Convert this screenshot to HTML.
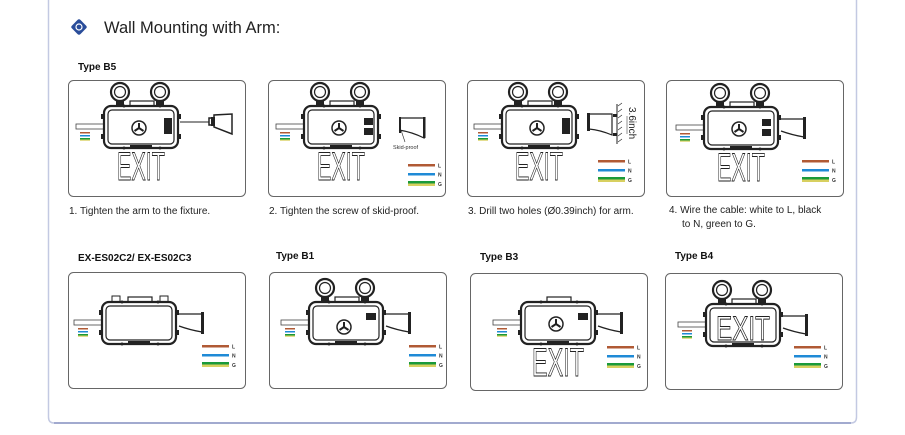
<!DOCTYPE html>
<html><head><meta charset="utf-8"><style>
html,body{margin:0;padding:0;background:#fff;}
svg{display:block;font-family:"Liberation Sans",sans-serif;}
</style></head><body>
<svg width="905" height="435" viewBox="0 0 905 435" xmlns="http://www.w3.org/2000/svg">
<defs>
  <g id="body">
    <rect x="0" y="0" width="74" height="42" rx="7" fill="#fff" stroke="#222" stroke-width="2.2"/>
    <rect x="4" y="4" width="66" height="34" rx="4" fill="#fff" stroke="#222" stroke-width="1.2"/>
    <rect x="26" y="-5" width="24" height="5" fill="none" stroke="#222" stroke-width="1.2"/>
    <rect x="-3" y="8" width="3" height="5" fill="#222"/><rect x="-3" y="28" width="3" height="5" fill="#222"/>
    <rect x="74" y="8" width="3" height="5" fill="#222"/><rect x="74" y="28" width="3" height="5" fill="#222"/>
    <rect x="26" y="39" width="22" height="4" fill="#222"/>
    <circle cx="20" cy="0" r="1.5" fill="#222"/><circle cx="56" cy="0" r="1.5" fill="#222"/>
    <circle cx="20" cy="42" r="1.5" fill="#222"/><circle cx="56" cy="42" r="1.5" fill="#222"/>
  </g>
  <g id="rings">
    <circle cx="16" cy="-14" r="9" fill="none" stroke="#222" stroke-width="2.2"/>
    <circle cx="16" cy="-14" r="5.5" fill="none" stroke="#222" stroke-width="1.2"/>
    <circle cx="56" cy="-14" r="9" fill="none" stroke="#222" stroke-width="2.2"/>
    <circle cx="56" cy="-14" r="5.5" fill="none" stroke="#222" stroke-width="1.2"/>
    <rect x="12" y="-5" width="8" height="5" fill="#222"/><rect x="52" y="-5" width="8" height="5" fill="#222"/>
  </g>
  <g id="fan">
    <circle cx="0" cy="0" r="7" fill="none" stroke="#222" stroke-width="1.5"/>
    <path d="M0 0 L0 -5 M0 0 L-4.5 3 M0 0 L4.5 3" stroke="#222" stroke-width="2"/>
  </g>
  <g id="cable">
    <rect x="-28" y="18" width="28" height="5" fill="#fff" stroke="#444" stroke-width="0.8"/>
    <rect x="-24" y="26" width="10" height="1.5" fill="#b05a35"/>
    <rect x="-24" y="29" width="10" height="1.5" fill="#1f8ad6"/>
    <rect x="-24" y="32" width="10" height="1.5" fill="#1a9a3a"/>
    <rect x="-24" y="33.5" width="10" height="1.2" fill="#d8d060"/>
  </g>
  <g id="arm">
    <path d="M77 12 L100 12 L100 30 Q88 28 77 24" fill="#fff" stroke="#222" stroke-width="1.3"/>
    <rect x="99" y="10" width="3" height="22" fill="#222"/>
  </g>
  <g id="legend">
    <rect x="0" y="0" width="27" height="2.5" fill="#b05a35"/>
    <rect x="0" y="9" width="27" height="2.5" fill="#1f8ad6"/>
    <rect x="0" y="17" width="27" height="2.5" fill="#1a9a3a"/>
    <rect x="0" y="19.5" width="27" height="2.5" fill="#d8d060"/>
    <text x="30" y="3.5" font-size="5" font-weight="bold" fill="#333">L</text>
    <text x="30" y="12.5" font-size="5" font-weight="bold" fill="#333">N</text>
    <text x="30" y="22" font-size="5" font-weight="bold" fill="#333">G</text>
  </g>
</defs>

<path d="M48.5 0 V417 Q48.5 423 54 423 H851 Q856.5 423 856.5 417 V0" fill="none" stroke="#c3c9e2" stroke-width="1.5"/>
<path d="M54 423 H851" stroke="#8d97c4" stroke-width="1.5"/>

<g transform="translate(79,27)">
  <rect x="-6" y="-6" width="12" height="12" rx="2" transform="rotate(45)" fill="#2a4d9a"/>
  <circle r="3" fill="none" stroke="#fff" stroke-width="1.2"/>
</g>
<text x="104" y="33" font-size="16.5" fill="#222">Wall Mounting with Arm:</text>

<text x="78" y="70" font-size="10" font-weight="bold" fill="#111">Type B5</text>

<rect x="68.5" y="80.5" width="177" height="116" rx="5" fill="#fff" stroke="#666" stroke-width="1"/>
<rect x="268.5" y="80.5" width="177" height="116" rx="5" fill="#fff" stroke="#666" stroke-width="1"/>
<rect x="467.5" y="80.5" width="177" height="116" rx="5" fill="#fff" stroke="#666" stroke-width="1"/>
<rect x="666.5" y="80.5" width="177" height="116" rx="5" fill="#fff" stroke="#666" stroke-width="1"/>

<g transform="translate(104,106)">
  <use href="#rings"/><use href="#cable"/><use href="#body"/>
  <use href="#fan" x="35" y="22"/><rect x="60" y="12" width="8" height="16" fill="#222"/>
  <text x="37" y="74" font-size="40" text-anchor="middle" fill="#fff" stroke="#222" stroke-width="0.9" textLength="48" lengthAdjust="spacingAndGlyphs">EXIT</text>
</g>
<line x1="180" y1="122" x2="209" y2="122" stroke="#222" stroke-width="1"/>
<path d="M209 118 L214 118 L214 115 L232 114 L232 134 L214 127 L214 125 L209 125 Z" fill="#fff" stroke="#222" stroke-width="1.5"/>
<rect x="211" y="117" width="4" height="9" fill="#222"/>

<g transform="translate(304,106)">
  <use href="#rings"/><use href="#cable"/><use href="#body"/>
  <use href="#fan" x="35" y="22"/><rect x="60" y="12" width="9" height="7" fill="#222"/><rect x="60" y="22" width="9" height="7" fill="#222"/>
  <text x="37" y="74" font-size="40" text-anchor="middle" fill="#fff" stroke="#222" stroke-width="0.9" textLength="48" lengthAdjust="spacingAndGlyphs">EXIT</text>
</g>
<path d="M399 118 L424 118 L424 138 Q412 132 399 130" fill="none" stroke="#222" stroke-width="1.2"/>
<rect x="399" y="117" width="2" height="16" fill="#222"/><rect x="423" y="117" width="2.5" height="21" fill="#222"/>
<line x1="401" y1="130" x2="405" y2="142" stroke="#222" stroke-width="0.6"/>
<text x="393" y="149" font-size="5.5" fill="#333">Skid-proof</text>
<use href="#legend" x="408" y="164"/>

<g transform="translate(502,106)">
  <use href="#rings"/><use href="#cable"/><use href="#body"/>
  <use href="#fan" x="35" y="22"/><rect x="60" y="12" width="8" height="16" fill="#222"/>
  <text x="37" y="74" font-size="40" text-anchor="middle" fill="#fff" stroke="#222" stroke-width="0.9" textLength="48" lengthAdjust="spacingAndGlyphs">EXIT</text>
</g>
<path d="M588 114 L612 114 L612 135 Q600 130 589 129" fill="none" stroke="#222" stroke-width="1.2"/>
<rect x="587" y="113" width="3" height="18" fill="#222"/>
<line x1="617" y1="104" x2="617" y2="144" stroke="#222" stroke-width="1"/>
<path d="M618 106 l4 -3 M618 112 l4 -3 M618 118 l4 -3 M618 124 l4 -3 M618 130 l4 -3 M618 136 l4 -3 M618 142 l4 -3" stroke="#222" stroke-width="0.6"/>
<rect x="613" y="114" width="4" height="3" fill="#222"/><rect x="613" y="133" width="4" height="3" fill="#222"/>
<line x1="627" y1="116" x2="627" y2="134" stroke="#222" stroke-width="0.5"/>
<text x="0" y="0" font-size="10" fill="#222" transform="translate(629,107) rotate(90)">3.6inch</text>
<use href="#legend" x="598" y="160"/>

<g transform="translate(704,107)">
  <use href="#rings"/><use href="#cable"/><use href="#body"/>
  <use href="#fan" x="35" y="22"/><rect x="58" y="12" width="9" height="7" fill="#222"/><rect x="58" y="22" width="9" height="7" fill="#222"/>
  <text x="37" y="74" font-size="40" text-anchor="middle" fill="#fff" stroke="#222" stroke-width="0.9" textLength="48" lengthAdjust="spacingAndGlyphs">EXIT</text>
  <use href="#arm"/>
</g>
<use href="#legend" x="802" y="160"/>

<g font-size="10" fill="#222">
<text x="69" y="214">1. Tighten the arm to the fixture.</text>
<text x="269" y="214">2. Tighten the screw of skid-proof.</text>
<text x="468" y="214">3. Drill two holes (Ø0.39inch) for arm.</text>
<text x="669" y="213">4. Wire the cable: white to L, black</text>
<text x="682" y="227">to N, green to G.</text>
</g>

<g font-size="10" font-weight="bold" fill="#111">
<text x="78" y="261">EX-ES02C2/ EX-ES02C3</text>
<text x="276" y="259">Type B1</text>
<text x="480" y="260">Type B3</text>
<text x="675" y="259">Type B4</text>
</g>

<rect x="68.5" y="272.5" width="177" height="116" rx="5" fill="#fff" stroke="#666" stroke-width="1"/>
<rect x="269.5" y="272.5" width="177" height="116" rx="5" fill="#fff" stroke="#666" stroke-width="1"/>
<rect x="470.5" y="273.5" width="177" height="117" rx="5" fill="#fff" stroke="#666" stroke-width="1"/>
<rect x="665.5" y="273.5" width="177" height="116" rx="5" fill="#fff" stroke="#666" stroke-width="1"/>

<g transform="translate(102,302)">
  <use href="#cable"/><use href="#body"/><use href="#arm"/>
  <rect x="10" y="-6" width="8" height="6" fill="none" stroke="#222" stroke-width="1"/><rect x="58" y="-6" width="8" height="6" fill="none" stroke="#222" stroke-width="1"/>
</g>
<use href="#legend" x="202" y="345"/>

<g transform="translate(309,302)">
  <use href="#rings"/><use href="#cable"/><use href="#body"/><use href="#arm"/>
  <use href="#fan" x="35" y="25"/><rect x="57" y="11" width="10" height="7" fill="#222"/>
</g>
<use href="#legend" x="409" y="345"/>

<g transform="translate(521,302)">
  <use href="#cable"/><use href="#body"/><use href="#arm"/>
  <use href="#fan" x="35" y="22"/><rect x="57" y="11" width="10" height="7" fill="#222"/>
  <text x="37" y="74" font-size="40" text-anchor="middle" fill="#fff" stroke="#222" stroke-width="0.9" textLength="52" lengthAdjust="spacingAndGlyphs">EXIT</text>
</g>
<use href="#legend" x="607" y="346"/>

<g transform="translate(706,304)">
  <use href="#rings"/><use href="#cable"/><use href="#body"/><use href="#arm"/>
  <text x="37" y="36" font-size="34" text-anchor="middle" fill="#fff" stroke="#222" stroke-width="0.9" textLength="54" lengthAdjust="spacingAndGlyphs">EXIT</text>
</g>
<use href="#legend" x="794" y="346"/>
</svg>
</body></html>
